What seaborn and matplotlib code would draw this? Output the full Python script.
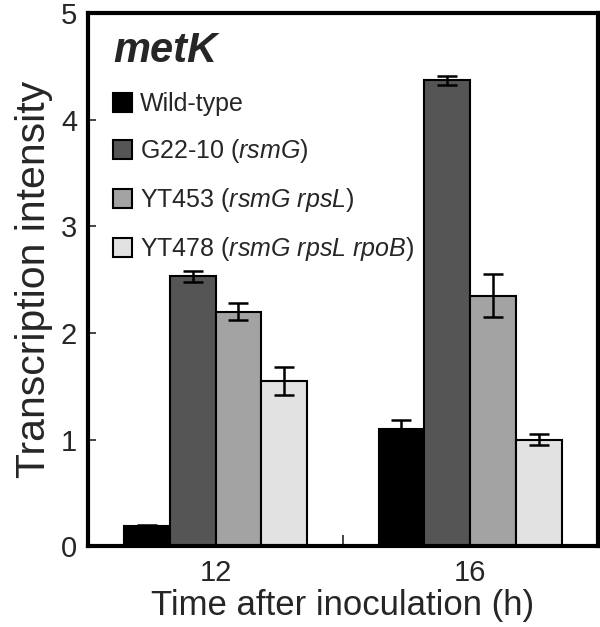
import seaborn as sns
import matplotlib.pyplot as plt
import pandas as pd

# values
times = ["12", "16"]
strains = ["Wild-type", "G22-10 ($\\it{rsmG}$)", "YT453 ($\\it{rsmG\\ rpsL}$)",
           "YT478 ($\\it{rsmG\\ rpsL\\ rpoB}$)"]
means = {
    strains[0]: [0.19, 1.10],
    strains[1]: [2.53, 4.37],
    strains[2]: [2.20, 2.35],
    strains[3]: [1.55, 1.00],
}
errs = {
    strains[0]: [0.01, 0.08],
    strains[1]: [0.05, 0.04],
    strains[2]: [0.08, 0.20],
    strains[3]: [0.13, 0.05],
}
colors = ["#000000", "#555555", "#a3a3a3", "#e2e2e2"]

rows = []
for s in strains:
    for i, t in enumerate(times):
        rows.append({"Time": t, "Strain": s, "Value": means[s][i], "Err": errs[s][i]})
df = pd.DataFrame(rows)

sns.set_theme(style="white")
plt.rcParams["font.family"] = ["Liberation Sans", "DejaVu Sans"]
plt.rcParams["mathtext.fontset"] = "custom"
plt.rcParams["mathtext.it"] = "Liberation Sans:italic"
plt.rcParams["mathtext.rm"] = "Liberation Sans"

fig = plt.figure(figsize=(6, 6.27), dpi=100)
ax = fig.add_axes([0.147, 0.129, 0.849, 0.85])

sns.barplot(data=df, x="Time", y="Value", hue="Strain", hue_order=strains,
            order=times, palette=colors, width=0.72, errorbar=None,
            edgecolor="black", linewidth=1.5, saturation=1, ax=ax)

# error bars on top of each bar
for container, s in zip(ax.containers, strains):
    for bar, t in zip(container, times):
        row = df[(df.Strain == s) & (df.Time == t)].iloc[0]
        x = bar.get_x() + bar.get_width() / 2
        ax.errorbar(x, row.Value, yerr=row.Err, color="black", capsize=7,
                    elinewidth=1.8, capthick=1.8, zorder=5)

ax.set_xlim(-0.5, 1.5)
ax.set_ylim(0, 5)
ax.set_yticks([0, 1, 2, 3, 4, 5])
ax.tick_params(axis="y", direction="in", length=6, width=1.2, labelsize=21, left=True, pad=8)
ax.tick_params(axis="x", length=0, labelsize=21, pad=9)
ax.set_xticks([0.5], minor=True)
ax.tick_params(axis="x", which="minor", direction="in", length=8, width=1.2, bottom=True)
for sp in ax.spines.values():
    sp.set_linewidth(3)
    sp.set_color("black")

ax.set_xlabel("Time after inoculation (h)", fontsize=25, labelpad=2)
ax.set_ylabel("Transcription intensity", fontsize=29.5, labelpad=6)

leg = ax.legend(title="metK", loc="upper left", bbox_to_anchor=(0.03, 0.985),
                frameon=False, fontsize=18, handlelength=0.75, handleheight=0.8,
                handletextpad=0.3, labelspacing=0.84, borderaxespad=0.0,
                title_fontproperties={"size": 30, "weight": "bold", "style": "italic"})
leg._legend_box.align = "left"

fig.savefig("out.png", dpi=100)
